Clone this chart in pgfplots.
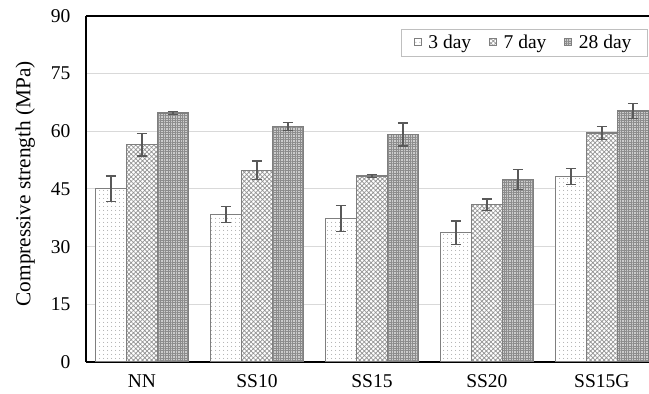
\documentclass[border=0pt]{standalone}
\usepackage{fontspec}
\setmainfont{Liberation Serif}
\usepackage{pgfplots}
\pgfplotsset{compat=1.18}
\usetikzlibrary{patterns.meta}
\definecolor{barline}{HTML}{7F7F7F}
\definecolor{errc}{HTML}{595959}
\definecolor{gridc}{HTML}{D9D9D9}
\newcommand{\ff}{\fontsize{19.5}{23}\selectfont}
\begin{document}
\begin{tikzpicture}
\begin{axis}[
  scale only axis,
  width=563pt, height=346pt,
  ybar=0pt, bar width=31pt,
  xmin=-0.487, xmax=4.41,
  ymin=0, ymax=90,
  ytick={0,15,...,90},
  xtick={0,1,2,3,4},
  xticklabels={NN,SS10,SS15,SS20,SS15G},
  major tick length=0pt,
  axis x line*=box, axis y line*=left,
  axis line style={black, line width=1.2pt},
  ymajorgrids, grid style={gridc, line width=1pt},
  /pgf/number format/assume math mode=true,
  yticklabel style={font=\ff, xshift=-12pt},
  xticklabel style={font=\ff, yshift=-9pt},
  ylabel={Compressive strength (MPa)},
  ylabel style={font=\fontsize{21.3}{25}\selectfont, at={(axis description cs:-0.108,0.515)}, anchor=center},
  legend style={font=\ff, at={(0.998,0.963)}, anchor=north east, draw=gray!50, line width=0.8pt,
    legend columns=3, inner xsep=12pt, inner ysep=4pt,
    nodes={inner xsep=4pt}},
  legend image code/.code={\draw[#1, line width=0.5pt] (0pt,-2.5pt) rectangle (7pt,4.5pt);},
  error bars/y dir=both, error bars/y explicit,
  error bars/error bar style={errc, line width=1.3pt},
  error bars/error mark options={errc, line width=1.3pt, mark size=5pt, rotate=90},
]
\addplot[draw=barline, line width=1.3pt, fill=white, postaction={pattern={Dots[distance=4pt, radius=0.55pt]}, pattern color=gray}]
  coordinates {(0,45.1) +- (0,3.3) (1,38.3) +- (0,2.1) (2,37.3) +- (0,3.4) (3,33.6) +- (0,3.1) (4,48.3) +- (0,2.1)};
\addplot[draw=barline, line width=1.3pt, fill=white, postaction={pattern={Hatch[angle=45, distance=3.2pt, line width=0.7pt]}, pattern color=gray!85}]
  coordinates {(0,56.5) +- (0,2.9) (1,49.9) +- (0,2.4) (2,48.4) +- (0,0.4) (3,40.9) +- (0,1.5) (4,59.6) +- (0,1.7)};
\addplot[draw=barline, line width=1.3pt, fill=gray!40, postaction={pattern={Hatch[angle=0, distance=2.4pt, line width=0.8pt]}, pattern color=gray!90}]
  coordinates {(0,64.8) +- (0,0.4) (1,61.3) +- (0,1.0) (2,59.2) +- (0,3.0) (3,47.4) +- (0,2.6) (4,65.3) +- (0,2.0)};
\legend{\rule{3pt}{0pt}3 day\rule{14pt}{0pt},\rule{3pt}{0pt}7 day\rule{14pt}{0pt},\rule{3pt}{0pt}28 day}
\end{axis}
\pgfresetboundingbox
\path[use as bounding box] ([xshift=-86pt,yshift=16pt]current axis.north west) rectangle ([yshift=-32pt]current axis.south east);
\end{tikzpicture}
\end{document}
